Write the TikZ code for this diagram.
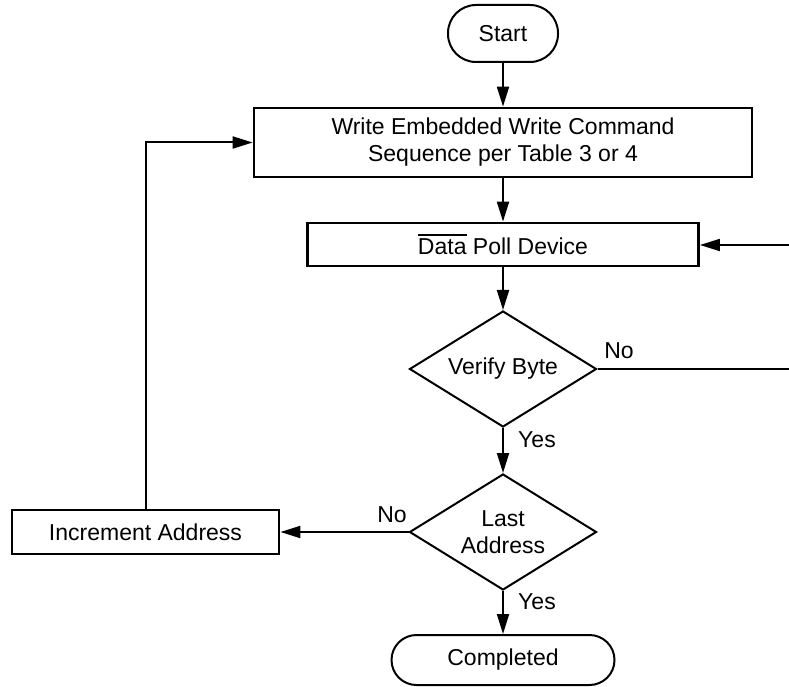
\documentclass[tikz,border=0pt]{standalone}
\usepackage{fontspec}
\setmainfont{Liberation Sans}
\usetikzlibrary{shapes.geometric,arrows.meta}
\newsavebox\ovlbox
\newcommand\ovl[1]{\leavevmode\sbox\ovlbox{#1}\rlap{\raisebox{\dimexpr\ht\ovlbox+3pt\relax}{\rule{\wd\ovlbox}{1.5pt}}}\usebox\ovlbox}
\begin{document}
\begin{tikzpicture}[x=1pt,y=-1pt,
  font=\fontsize{23}{27}\selectfont,
  box/.style={draw, line width=2.8pt, inner sep=0pt},
  term/.style={draw, line width=2pt, inner sep=0pt},
  decision/.style={draw, diamond, line width=2pt, inner sep=0pt, aspect=1.61, minimum width=187pt, minimum height=116pt},
  conn/.style={line width=2pt, -{Triangle[length=20pt,width=12pt]}},
  plain/.style={line width=2pt},
  lbl/.style={inner sep=0pt}]
\useasboundingbox (0,0) rectangle (789,687);
\node[term, rounded corners=28pt, minimum width=110pt, minimum height=57pt] (start) at (503,33.5) {Start};
\node[box, minimum width=498pt, minimum height=69pt, align=center] (write) at (503,142.5) {Write Embedded Write Command\\Sequence per Table 3 or 4};
\node[box, minimum width=391pt, minimum height=43pt] (poll) at (503,244.5) {\ovl{Data} Poll Device};
\node[decision] (verify) at (503,369) {Verify Byte};
\node[decision, align=center] (last) at (503,532) {Last\\Address};
\node[box, minimum width=267pt, minimum height=44pt] (inc) at (145.5,532) {Increment Address};
\node[term, rounded corners=25pt, minimum width=223pt, minimum height=50pt] (done) at (503,660) {Completed};
\coordinate (pollin) at (789,245);
\coordinate (verout) at (789,369);
\draw[conn] (start) -- (write);
\draw[conn] (write) -- (poll);
\draw[conn] (poll) -- (verify);
\draw[conn] (verify) -- (last);
\draw[conn] (last) -- (done);
\draw[conn] (pollin) -- (pollin -| poll.east);
\draw[plain] (verify.east) -- (verout);
\draw[conn] (last.west) -- (inc.east);
\draw[conn] (inc.north) |- (write.west);
\node[lbl] (no1) at (619,351) {No};
\node[lbl] (yes1) at (537,440) {Yes};
\node[lbl] (no2) at (392,515) {No};
\node[lbl] (yes2) at (537,602) {Yes};
\end{tikzpicture}
\end{document}
